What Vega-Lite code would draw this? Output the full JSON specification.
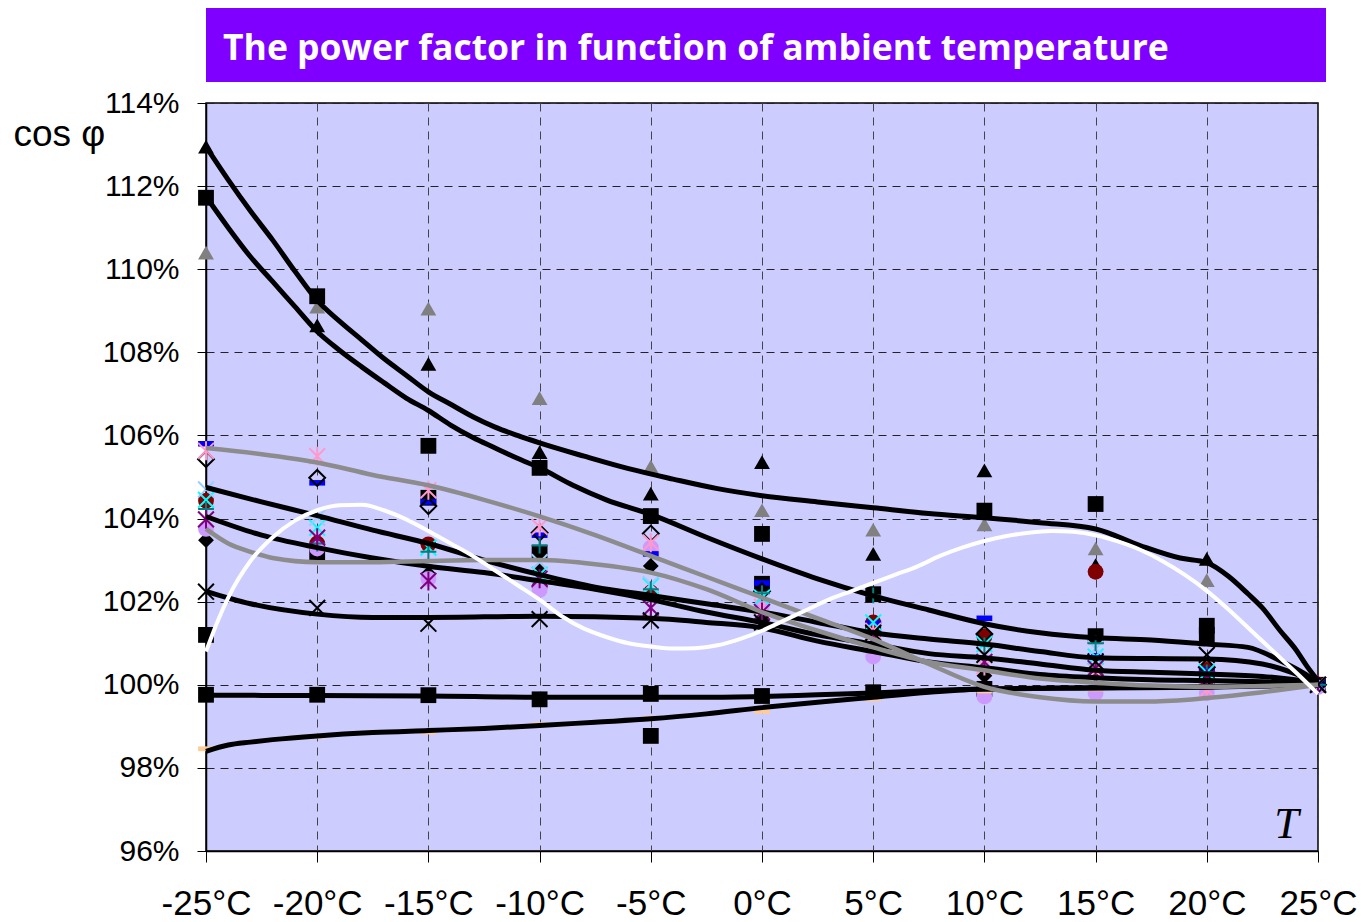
{
  "$schema": "https://vega.github.io/schema/vega-lite/v6.json",
  "background": "white",
  "padding": {"left": 12, "top": 8, "right": 4, "bottom": 2},
  "spacing": 5,
  "config": {
    "view": {"fill": "#ccccff", "stroke": "black", "strokeWidth": 1.5},
    "axis": {"labelColor": "black", "tickColor": "black", "domainColor": "black", "domainWidth": 1.5, "titleColor": "black", "labelFont": "Liberation Sans", "titleFont": "Liberation Sans"}
  },
  "datasets": {
    "pts": [
      {"s": "tri", "T": -25, "v": 112.95}, {"s": "tri", "T": -20, "v": 108.65}, {"s": "tri", "T": -15, "v": 107.72}, {"s": "tri", "T": -10, "v": 105.6}, {"s": "tri", "T": -5, "v": 104.6}, {"s": "tri", "T": 0, "v": 105.36}, {"s": "tri", "T": 5, "v": 103.15}, {"s": "tri", "T": 10, "v": 105.16}, {"s": "tri", "T": 15, "v": 102.88}, {"s": "tri", "T": 20, "v": 103.03}, {"s": "tri", "T": 25, "v": 100.0},
      {"s": "gtri", "T": -25, "v": 110.4}, {"s": "gtri", "T": -20, "v": 109.1}, {"s": "gtri", "T": -15, "v": 109.05}, {"s": "gtri", "T": -10, "v": 106.9}, {"s": "gtri", "T": -5, "v": 105.25}, {"s": "gtri", "T": 0, "v": 104.2}, {"s": "gtri", "T": 5, "v": 103.73}, {"s": "gtri", "T": 10, "v": 103.86}, {"s": "gtri", "T": 15, "v": 103.28}, {"s": "gtri", "T": 20, "v": 102.52}, {"s": "gtri", "T": 25, "v": 100.0},
      {"s": "sq", "T": -25, "v": 111.72}, {"s": "sq", "T": -25, "v": 101.2}, {"s": "sq", "T": -25, "v": 99.76},
      {"s": "sq", "T": -20, "v": 109.35}, {"s": "sq", "T": -20, "v": 103.15}, {"s": "sq", "T": -20, "v": 99.76},
      {"s": "sq", "T": -15, "v": 105.75}, {"s": "sq", "T": -15, "v": 104.5}, {"s": "sq", "T": -15, "v": 99.75},
      {"s": "sq", "T": -10, "v": 105.22}, {"s": "sq", "T": -10, "v": 103.18}, {"s": "sq", "T": -10, "v": 99.65},
      {"s": "sq", "T": -5, "v": 104.06}, {"s": "sq", "T": -5, "v": 99.78}, {"s": "sq", "T": -5, "v": 98.77},
      {"s": "sq", "T": 0, "v": 103.63}, {"s": "sq", "T": 0, "v": 102.43}, {"s": "sq", "T": 0, "v": 99.73},
      {"s": "sq", "T": 5, "v": 102.18}, {"s": "sq", "T": 5, "v": 101.35}, {"s": "sq", "T": 5, "v": 99.82},
      {"s": "sq", "T": 10, "v": 104.19}, {"s": "sq", "T": 10, "v": 99.9},
      {"s": "sq", "T": 15, "v": 104.35}, {"s": "sq", "T": 15, "v": 101.17},
      {"s": "sq", "T": 20, "v": 101.42}, {"s": "sq", "T": 20, "v": 101.2}, {"s": "sq", "T": 20, "v": 100.12},
      {"s": "sq", "T": 25, "v": 100.0},
      {"s": "dia", "T": -25, "v": 103.48}, {"s": "dia", "T": -15, "v": 102.67}, {"s": "dia", "T": -10, "v": 102.78}, {"s": "dia", "T": -5, "v": 102.86}, {"s": "dia", "T": 0, "v": 101.55}, {"s": "dia", "T": 10, "v": 100.22}, {"s": "dia", "T": 15, "v": 100.25}, {"s": "dia", "T": 20, "v": 100.1}, {"s": "dia", "T": 25, "v": 100.0},
      {"s": "odia", "T": -25, "v": 105.43}, {"s": "odia", "T": -20, "v": 104.98}, {"s": "odia", "T": -15, "v": 104.3}, {"s": "odia", "T": -10, "v": 103.66}, {"s": "odia", "T": -5, "v": 103.64}, {"s": "odia", "T": 0, "v": 102.25}, {"s": "odia", "T": 10, "v": 101.22}, {"s": "odia", "T": 20, "v": 100.42}, {"s": "odia", "T": 25, "v": 100.0},
      {"s": "rc", "T": -25, "v": 104.43}, {"s": "rc", "T": -20, "v": 103.4}, {"s": "rc", "T": -15, "v": 103.38}, {"s": "rc", "T": -10, "v": 102.35}, {"s": "rc", "T": -5, "v": 102.22}, {"s": "rc", "T": 5, "v": 101.5}, {"s": "rc", "T": 10, "v": 101.16}, {"s": "rc", "T": 15, "v": 102.72}, {"s": "rc", "T": 20, "v": 100.36}, {"s": "rc", "T": 25, "v": 100.0},
      {"s": "vc", "T": -25, "v": 103.75}, {"s": "vc", "T": -20, "v": 103.28}, {"s": "vc", "T": -15, "v": 102.55}, {"s": "vc", "T": -10, "v": 102.28}, {"s": "vc", "T": -5, "v": 103.3}, {"s": "vc", "T": 0, "v": 101.9}, {"s": "vc", "T": 5, "v": 100.68}, {"s": "vc", "T": 10, "v": 99.72}, {"s": "vc", "T": 15, "v": 99.8}, {"s": "vc", "T": 20, "v": 99.8}, {"s": "vc", "T": 25, "v": 99.95},
      {"s": "bd", "T": -25, "v": 105.8}, {"s": "bd", "T": -20, "v": 104.86}, {"s": "bd", "T": -15, "v": 104.4}, {"s": "bd", "T": -10, "v": 103.6}, {"s": "bd", "T": -5, "v": 103.15}, {"s": "bd", "T": 0, "v": 102.45}, {"s": "bd", "T": 5, "v": 101.48}, {"s": "bd", "T": 10, "v": 101.6}, {"s": "bd", "T": 15, "v": 100.7}, {"s": "bd", "T": 20, "v": 100.36}, {"s": "bd", "T": 25, "v": 100.02},
      {"s": "od", "T": -25, "v": 98.46}, {"s": "od", "T": -20, "v": 98.76}, {"s": "od", "T": -15, "v": 98.86}, {"s": "od", "T": -10, "v": 99.04}, {"s": "od", "T": -5, "v": 99.2}, {"s": "od", "T": 0, "v": 99.36}, {"s": "od", "T": 5, "v": 99.66}, {"s": "od", "T": 10, "v": 99.85}, {"s": "od", "T": 15, "v": 99.9}, {"s": "od", "T": 20, "v": 99.95},
      {"s": "pk", "T": -25, "v": 105.63}, {"s": "pk", "T": -20, "v": 105.5}, {"s": "pk", "T": -15, "v": 104.68}, {"s": "pk", "T": -10, "v": 103.8}, {"s": "pk", "T": -5, "v": 103.42}, {"s": "pk", "T": 0, "v": 101.88}, {"s": "pk", "T": 5, "v": 101.3}, {"s": "pk", "T": 10, "v": 100.45}, {"s": "pk", "T": 15, "v": 100.33}, {"s": "pk", "T": 20, "v": 99.88}, {"s": "pk", "T": 25, "v": 100.0},
      {"s": "cx", "T": -25, "v": 104.45}, {"s": "cx", "T": -20, "v": 103.78}, {"s": "cx", "T": -15, "v": 103.3}, {"s": "cx", "T": -10, "v": 102.65}, {"s": "cx", "T": -5, "v": 102.38}, {"s": "cx", "T": 0, "v": 102.1}, {"s": "cx", "T": 5, "v": 101.5}, {"s": "cx", "T": 10, "v": 100.98}, {"s": "cx", "T": 15, "v": 100.68}, {"s": "cx", "T": 20, "v": 100.3}, {"s": "cx", "T": 25, "v": 100.0},
      {"s": "lbx", "T": -25, "v": 104.7}, {"s": "lbx", "T": -20, "v": 104.02}, {"s": "lbx", "T": -10, "v": 102.95}, {"s": "lbx", "T": -5, "v": 102.42}, {"s": "lbx", "T": 15, "v": 100.87}, {"s": "lbx", "T": 25, "v": 100.0},
      {"s": "tp", "T": -25, "v": 104.23}, {"s": "tp", "T": -20, "v": 103.4}, {"s": "tp", "T": -15, "v": 103.2}, {"s": "tp", "T": -10, "v": 103.35}, {"s": "tp", "T": -5, "v": 102.3}, {"s": "tp", "T": 0, "v": 102.2}, {"s": "tp", "T": 5, "v": 102.15}, {"s": "tp", "T": 10, "v": 100.95}, {"s": "tp", "T": 15, "v": 101.0}, {"s": "tp", "T": 20, "v": 100.3}, {"s": "tp", "T": 25, "v": 100.0},
      {"s": "pa", "T": -25, "v": 103.98}, {"s": "pa", "T": -20, "v": 103.54}, {"s": "pa", "T": -15, "v": 102.5}, {"s": "pa", "T": -10, "v": 102.55}, {"s": "pa", "T": -5, "v": 101.85}, {"s": "pa", "T": 0, "v": 101.75}, {"s": "pa", "T": 5, "v": 101.1}, {"s": "pa", "T": 10, "v": 100.55}, {"s": "pa", "T": 15, "v": 100.4}, {"s": "pa", "T": 20, "v": 100.15}, {"s": "pa", "T": 25, "v": 100.0},
      {"s": "bx", "T": -25, "v": 102.24}, {"s": "bx", "T": -20, "v": 101.85}, {"s": "bx", "T": -15, "v": 101.47}, {"s": "bx", "T": -10, "v": 101.58}, {"s": "bx", "T": -5, "v": 101.55}, {"s": "bx", "T": 0, "v": 101.5}, {"s": "bx", "T": 5, "v": 101.25}, {"s": "bx", "T": 10, "v": 100.72}, {"s": "bx", "T": 15, "v": 100.55}, {"s": "bx", "T": 20, "v": 100.72}, {"s": "bx", "T": 25, "v": 100.0}
    ],
    "crv": [
      {"c": "T1", "T": -25, "v": 112.95}, {"c": "T1", "T": -24, "v": 112.15}, {"c": "T1", "T": -23, "v": 111.4}, {"c": "T1", "T": -22, "v": 110.7}, {"c": "T1", "T": -21, "v": 109.95}, {"c": "T1", "T": -20, "v": 109.25}, {"c": "T1", "T": -19, "v": 108.75}, {"c": "T1", "T": -18, "v": 108.3}, {"c": "T1", "T": -17, "v": 107.85}, {"c": "T1", "T": -16, "v": 107.45}, {"c": "T1", "T": -15, "v": 107.05}, {"c": "T1", "T": -14, "v": 106.75}, {"c": "T1", "T": -13, "v": 106.45}, {"c": "T1", "T": -12, "v": 106.2}, {"c": "T1", "T": -11, "v": 106.0}, {"c": "T1", "T": -10, "v": 105.82}, {"c": "T1", "T": -8, "v": 105.5}, {"c": "T1", "T": -6, "v": 105.2}, {"c": "T1", "T": -4, "v": 104.95}, {"c": "T1", "T": -2, "v": 104.72}, {"c": "T1", "T": 0, "v": 104.55}, {"c": "T1", "T": 2.5, "v": 104.4}, {"c": "T1", "T": 5, "v": 104.26}, {"c": "T1", "T": 7.5, "v": 104.12}, {"c": "T1", "T": 10, "v": 104.02}, {"c": "T1", "T": 12.5, "v": 103.9}, {"c": "T1", "T": 15, "v": 103.75}, {"c": "T1", "T": 17, "v": 103.35}, {"c": "T1", "T": 18.8, "v": 103.05}, {"c": "T1", "T": 20, "v": 102.94}, {"c": "T1", "T": 21, "v": 102.6}, {"c": "T1", "T": 21.85, "v": 102.19}, {"c": "T1", "T": 22.5, "v": 101.85}, {"c": "T1", "T": 23.3, "v": 101.3}, {"c": "T1", "T": 24, "v": 100.85}, {"c": "T1", "T": 24.5, "v": 100.45}, {"c": "T1", "T": 25, "v": 100.1},
      {"c": "T2", "T": -25, "v": 111.75}, {"c": "T2", "T": -24, "v": 111.0}, {"c": "T2", "T": -23, "v": 110.3}, {"c": "T2", "T": -22, "v": 109.7}, {"c": "T2", "T": -21, "v": 109.1}, {"c": "T2", "T": -20, "v": 108.5}, {"c": "T2", "T": -19, "v": 108.05}, {"c": "T2", "T": -18, "v": 107.65}, {"c": "T2", "T": -17, "v": 107.27}, {"c": "T2", "T": -16, "v": 106.9}, {"c": "T2", "T": -15, "v": 106.6}, {"c": "T2", "T": -14, "v": 106.25}, {"c": "T2", "T": -13, "v": 105.95}, {"c": "T2", "T": -12, "v": 105.7}, {"c": "T2", "T": -11, "v": 105.45}, {"c": "T2", "T": -10, "v": 105.22}, {"c": "T2", "T": -8.5, "v": 104.8}, {"c": "T2", "T": -7, "v": 104.45}, {"c": "T2", "T": -5, "v": 104.1}, {"c": "T2", "T": -2.5, "v": 103.55}, {"c": "T2", "T": 0, "v": 103.03}, {"c": "T2", "T": 2.5, "v": 102.55}, {"c": "T2", "T": 5, "v": 102.14}, {"c": "T2", "T": 7.5, "v": 101.8}, {"c": "T2", "T": 10, "v": 101.47}, {"c": "T2", "T": 12.5, "v": 101.25}, {"c": "T2", "T": 15, "v": 101.13}, {"c": "T2", "T": 17.5, "v": 101.08}, {"c": "T2", "T": 20, "v": 100.98}, {"c": "T2", "T": 21.85, "v": 100.9}, {"c": "T2", "T": 23.3, "v": 100.58}, {"c": "T2", "T": 24.3, "v": 100.3}, {"c": "T2", "T": 25, "v": 100.05},
      {"c": "B3", "T": -25, "v": 104.75}, {"c": "B3", "T": -22.5, "v": 104.4}, {"c": "B3", "T": -20, "v": 104.07}, {"c": "B3", "T": -17.5, "v": 103.72}, {"c": "B3", "T": -15, "v": 103.4}, {"c": "B3", "T": -12.5, "v": 103.0}, {"c": "B3", "T": -10, "v": 102.65}, {"c": "B3", "T": -7.5, "v": 102.35}, {"c": "B3", "T": -5, "v": 102.15}, {"c": "B3", "T": -2.5, "v": 101.95}, {"c": "B3", "T": 0, "v": 101.75}, {"c": "B3", "T": 2.5, "v": 101.5}, {"c": "B3", "T": 5, "v": 101.25}, {"c": "B3", "T": 7.5, "v": 101.1}, {"c": "B3", "T": 10, "v": 100.98}, {"c": "B3", "T": 12.5, "v": 100.8}, {"c": "B3", "T": 15, "v": 100.65}, {"c": "B3", "T": 17.5, "v": 100.63}, {"c": "B3", "T": 20, "v": 100.62}, {"c": "B3", "T": 22.5, "v": 100.5}, {"c": "B3", "T": 25, "v": 100.05},
      {"c": "B4", "T": -25, "v": 104.05}, {"c": "B4", "T": -22.5, "v": 103.6}, {"c": "B4", "T": -20, "v": 103.3}, {"c": "B4", "T": -17.5, "v": 103.05}, {"c": "B4", "T": -15, "v": 102.85}, {"c": "B4", "T": -12.5, "v": 102.7}, {"c": "B4", "T": -10, "v": 102.5}, {"c": "B4", "T": -7.5, "v": 102.3}, {"c": "B4", "T": -5, "v": 102.05}, {"c": "B4", "T": -2.5, "v": 101.75}, {"c": "B4", "T": 0, "v": 101.5}, {"c": "B4", "T": 2.5, "v": 101.2}, {"c": "B4", "T": 5, "v": 100.98}, {"c": "B4", "T": 7.5, "v": 100.75}, {"c": "B4", "T": 10, "v": 100.65}, {"c": "B4", "T": 12.5, "v": 100.5}, {"c": "B4", "T": 15, "v": 100.35}, {"c": "B4", "T": 17.5, "v": 100.3}, {"c": "B4", "T": 20, "v": 100.26}, {"c": "B4", "T": 22.5, "v": 100.2}, {"c": "B4", "T": 25, "v": 100.05},
      {"c": "B5", "T": -25, "v": 102.25}, {"c": "B5", "T": -23, "v": 101.95}, {"c": "B5", "T": -20, "v": 101.7}, {"c": "B5", "T": -17.5, "v": 101.62}, {"c": "B5", "T": -15, "v": 101.62}, {"c": "B5", "T": -10, "v": 101.65}, {"c": "B5", "T": -5, "v": 101.6}, {"c": "B5", "T": -2.5, "v": 101.5}, {"c": "B5", "T": 0, "v": 101.37}, {"c": "B5", "T": 2.5, "v": 101.05}, {"c": "B5", "T": 5, "v": 100.8}, {"c": "B5", "T": 7.5, "v": 100.55}, {"c": "B5", "T": 10, "v": 100.41}, {"c": "B5", "T": 12.5, "v": 100.25}, {"c": "B5", "T": 15, "v": 100.17}, {"c": "B5", "T": 17.5, "v": 100.12}, {"c": "B5", "T": 20, "v": 100.1}, {"c": "B5", "T": 22.5, "v": 100.07}, {"c": "B5", "T": 25, "v": 100.02},
      {"c": "B6", "T": -25, "v": 99.75}, {"c": "B6", "T": -20, "v": 99.74}, {"c": "B6", "T": -15, "v": 99.73}, {"c": "B6", "T": -10, "v": 99.7}, {"c": "B6", "T": -5, "v": 99.7}, {"c": "B6", "T": -2.5, "v": 99.7}, {"c": "B6", "T": 0, "v": 99.72}, {"c": "B6", "T": 2.5, "v": 99.76}, {"c": "B6", "T": 5, "v": 99.8}, {"c": "B6", "T": 7.5, "v": 99.86}, {"c": "B6", "T": 10, "v": 99.9}, {"c": "B6", "T": 15, "v": 99.92}, {"c": "B6", "T": 20, "v": 99.94}, {"c": "B6", "T": 25, "v": 100.0},
      {"c": "B7", "T": -25, "v": 98.4}, {"c": "B7", "T": -24, "v": 98.55}, {"c": "B7", "T": -23, "v": 98.62}, {"c": "B7", "T": -22, "v": 98.68}, {"c": "B7", "T": -20, "v": 98.77}, {"c": "B7", "T": -17.5, "v": 98.85}, {"c": "B7", "T": -15, "v": 98.9}, {"c": "B7", "T": -12.5, "v": 98.95}, {"c": "B7", "T": -10, "v": 99.02}, {"c": "B7", "T": -7.5, "v": 99.1}, {"c": "B7", "T": -5, "v": 99.18}, {"c": "B7", "T": -2.5, "v": 99.3}, {"c": "B7", "T": 0, "v": 99.45}, {"c": "B7", "T": 2.5, "v": 99.58}, {"c": "B7", "T": 5, "v": 99.7}, {"c": "B7", "T": 7.5, "v": 99.82}, {"c": "B7", "T": 10, "v": 99.9}, {"c": "B7", "T": 15, "v": 99.93}, {"c": "B7", "T": 20, "v": 99.95}, {"c": "B7", "T": 25, "v": 100.0},
      {"c": "G1", "T": -25, "v": 105.7}, {"c": "G1", "T": -22.5, "v": 105.55}, {"c": "G1", "T": -20, "v": 105.35}, {"c": "G1", "T": -17.5, "v": 105.05}, {"c": "G1", "T": -15, "v": 104.8}, {"c": "G1", "T": -12.5, "v": 104.45}, {"c": "G1", "T": -10, "v": 104.05}, {"c": "G1", "T": -7.5, "v": 103.6}, {"c": "G1", "T": -5, "v": 103.1}, {"c": "G1", "T": -2.5, "v": 102.6}, {"c": "G1", "T": 0, "v": 102.1}, {"c": "G1", "T": 2.5, "v": 101.6}, {"c": "G1", "T": 5, "v": 101.1}, {"c": "G1", "T": 7.5, "v": 100.5}, {"c": "G1", "T": 10, "v": 99.95}, {"c": "G1", "T": 12.5, "v": 99.7}, {"c": "G1", "T": 15, "v": 99.6}, {"c": "G1", "T": 17.5, "v": 99.6}, {"c": "G1", "T": 20, "v": 99.68}, {"c": "G1", "T": 22.5, "v": 99.82}, {"c": "G1", "T": 25, "v": 100.0},
      {"c": "G2", "T": -25, "v": 103.75}, {"c": "G2", "T": -24, "v": 103.4}, {"c": "G2", "T": -23, "v": 103.2}, {"c": "G2", "T": -22, "v": 103.05}, {"c": "G2", "T": -20, "v": 102.95}, {"c": "G2", "T": -17.5, "v": 102.95}, {"c": "G2", "T": -15, "v": 102.98}, {"c": "G2", "T": -12.5, "v": 103.0}, {"c": "G2", "T": -10, "v": 103.0}, {"c": "G2", "T": -7.5, "v": 102.9}, {"c": "G2", "T": -5, "v": 102.7}, {"c": "G2", "T": -2.5, "v": 102.3}, {"c": "G2", "T": 0, "v": 101.75}, {"c": "G2", "T": 2.5, "v": 101.3}, {"c": "G2", "T": 5, "v": 100.9}, {"c": "G2", "T": 7.5, "v": 100.55}, {"c": "G2", "T": 10, "v": 100.35}, {"c": "G2", "T": 12.5, "v": 100.15}, {"c": "G2", "T": 15, "v": 100.05}, {"c": "G2", "T": 17.5, "v": 99.98}, {"c": "G2", "T": 20, "v": 99.95}, {"c": "G2", "T": 22.5, "v": 99.97}, {"c": "G2", "T": 25, "v": 100.0},
      {"c": "W", "T": -25, "v": 100.8}, {"c": "W", "T": -24.5, "v": 101.5}, {"c": "W", "T": -24, "v": 102.1}, {"c": "W", "T": -23, "v": 102.98}, {"c": "W", "T": -22, "v": 103.55}, {"c": "W", "T": -21, "v": 103.95}, {"c": "W", "T": -20, "v": 104.2}, {"c": "W", "T": -19, "v": 104.32}, {"c": "W", "T": -18, "v": 104.33}, {"c": "W", "T": -17, "v": 104.2}, {"c": "W", "T": -16, "v": 103.98}, {"c": "W", "T": -15, "v": 103.7}, {"c": "W", "T": -14, "v": 103.4}, {"c": "W", "T": -13, "v": 103.1}, {"c": "W", "T": -12, "v": 102.75}, {"c": "W", "T": -11, "v": 102.4}, {"c": "W", "T": -10, "v": 102.05}, {"c": "W", "T": -9, "v": 101.65}, {"c": "W", "T": -8, "v": 101.35}, {"c": "W", "T": -7, "v": 101.15}, {"c": "W", "T": -6, "v": 101.0}, {"c": "W", "T": -5, "v": 100.92}, {"c": "W", "T": -4, "v": 100.87}, {"c": "W", "T": -3, "v": 100.88}, {"c": "W", "T": -2, "v": 100.95}, {"c": "W", "T": -1, "v": 101.1}, {"c": "W", "T": 0, "v": 101.3}, {"c": "W", "T": 1, "v": 101.55}, {"c": "W", "T": 2, "v": 101.8}, {"c": "W", "T": 3, "v": 102.05}, {"c": "W", "T": 4, "v": 102.25}, {"c": "W", "T": 5, "v": 102.45}, {"c": "W", "T": 6, "v": 102.65}, {"c": "W", "T": 7, "v": 102.85}, {"c": "W", "T": 8, "v": 103.1}, {"c": "W", "T": 9, "v": 103.3}, {"c": "W", "T": 10, "v": 103.46}, {"c": "W", "T": 11, "v": 103.58}, {"c": "W", "T": 12, "v": 103.66}, {"c": "W", "T": 13, "v": 103.7}, {"c": "W", "T": 14, "v": 103.68}, {"c": "W", "T": 15, "v": 103.6}, {"c": "W", "T": 16, "v": 103.45}, {"c": "W", "T": 17, "v": 103.25}, {"c": "W", "T": 18, "v": 102.98}, {"c": "W", "T": 19, "v": 102.65}, {"c": "W", "T": 20, "v": 102.26}, {"c": "W", "T": 21, "v": 101.8}, {"c": "W", "T": 22, "v": 101.3}, {"c": "W", "T": 23, "v": 100.8}, {"c": "W", "T": 24, "v": 100.3}, {"c": "W", "T": 25, "v": 99.78}
    ]
  },
  "vconcat": [
    {
      "width": 1120,
      "height": 74,
      "view": {"fill": "#8000ff", "stroke": null},
      "data": {"values": [{"t": "The power factor in function of ambient temperature"}]},
      "mark": {"type": "text", "align": "left", "baseline": "middle", "dx": 17, "dy": 4, "color": "white", "font": "Open Sans", "fontSize": 35.5, "fontWeight": "bold"},
      "encoding": {
        "text": {"field": "t", "type": "nominal"},
        "x": {"value": 0}
      }
    },
    {
      "width": 1112,
      "height": 748,
      "encoding": {
        "x": {
          "field": "T", "type": "quantitative",
          "scale": {"domain": [-25, 25], "nice": false, "zero": false},
          "axis": {
            "values": [-25, -20, -15, -10, -5, 0, 5, 10, 15, 20, 25],
            "labelExpr": "datum.value + '°C'",
            "labelFontSize": 35, "labelPadding": 24, "tickSize": 11,
            "labelFlush": false, "labelOverlap": false, "labelBound": false,
            "grid": true, "gridColor": "#444", "gridDash": [8, 6], "gridWidth": 1,
            "title": "T", "titleFont": "Liberation Serif", "titleFontStyle": "italic", "titleFontWeight": "normal", "titleFontSize": 44,
            "titleX": 1080, "titleY": -14, "titleAlign": "center", "titleBaseline": "alphabetic", "titleAngle": 0
          }
        },
        "y": {
          "field": "v", "type": "quantitative",
          "scale": {"domain": [96, 114], "nice": false, "zero": false},
          "axis": {
            "values": [96, 98, 100, 102, 104, 106, 108, 110, 112, 114],
            "labelExpr": "datum.value + '%'",
            "labelFontSize": 30, "labelPadding": 18, "tickSize": 9,
            "grid": true, "gridColor": "#222", "gridDash": [8, 6], "gridWidth": 1,
            "title": "cos φ", "titleFontSize": 37, "titleFontWeight": "normal",
            "titleAngle": 0, "titleAlign": "left", "titleBaseline": "alphabetic",
            "titleX": -193, "titleY": 42
          }
        }
      },
      "layer": [
        {
          "data": {"name": "pts"},
          "transform": [{"filter": {"field": "s", "oneOf": ["tri", "gtri", "sq", "dia", "rc", "vc", "bd", "od"]}}],
          "mark": {"type": "point", "filled": true, "opacity": 1},
          "encoding": {
            "shape": {"field": "s", "type": "nominal", "legend": null, "scale": {
              "domain": ["tri", "gtri", "sq", "dia", "rc", "vc", "bd", "od", "odia", "pk", "cx", "lbx", "tp", "pa", "bx"],
              "range": ["triangle-up", "triangle-up", "square", "diamond", "circle", "circle", "M-1,-0.35L1,-0.35L1,0.35L-1,0.35Z", "M-1,-0.3L1,-0.3L1,0.3L-1,0.3Z", "diamond", "M-1,-1L1,1M-1,1L1,-1M0,-1.2L0,1.2", "M-1,-1L1,1M-1,1L1,-1", "M-1,-1L1,1M-1,1L1,-1", "M-1,0L1,0M0,-1L0,1", "M-1,-1L1,1M-1,1L1,-1M0,-1.2L0,1.2", "M-1,-1L1,1M-1,1L1,-1"]}},
            "size": {"field": "s", "type": "nominal", "legend": null, "scale": {
              "domain": ["tri", "gtri", "sq", "dia", "rc", "vc", "bd", "od", "odia", "pk", "cx", "lbx", "tp", "pa", "bx"],
              "range": [250, 250, 160, 190, 170, 170, 130, 130, 190, 150, 140, 140, 150, 150, 140]}},
            "color": {"field": "s", "type": "nominal", "legend": null, "scale": {
              "domain": ["tri", "gtri", "sq", "dia", "rc", "vc", "bd", "od", "odia", "pk", "cx", "lbx", "tp", "pa", "bx"],
              "range": ["#000000", "#808080", "#000000", "#000000", "#800000", "#cc99ff", "#0000ff", "#ffcc99", "#000000", "#ff99cc", "#00ffff", "#99ccff", "#008080", "#800080", "#000000"]}}
          }
        },
        {
          "data": {"name": "pts"},
          "transform": [{"filter": {"field": "s", "oneOf": ["odia", "pk", "cx", "lbx", "tp", "pa", "bx"]}}],
          "mark": {"type": "point", "filled": false, "opacity": 1, "strokeWidth": 2},
          "encoding": {
            "shape": {"field": "s", "type": "nominal", "legend": null, "scale": {
              "domain": ["tri", "gtri", "sq", "dia", "rc", "vc", "bd", "od", "odia", "pk", "cx", "lbx", "tp", "pa", "bx"],
              "range": ["triangle-up", "triangle-up", "square", "diamond", "circle", "circle", "M-1,-0.35L1,-0.35L1,0.35L-1,0.35Z", "M-1,-0.3L1,-0.3L1,0.3L-1,0.3Z", "diamond", "M-1,-1L1,1M-1,1L1,-1M0,-1.2L0,1.2", "M-1,-1L1,1M-1,1L1,-1", "M-1,-1L1,1M-1,1L1,-1", "M-1,0L1,0M0,-1L0,1", "M-1,-1L1,1M-1,1L1,-1M0,-1.2L0,1.2", "M-1,-1L1,1M-1,1L1,-1"]}},
            "size": {"field": "s", "type": "nominal", "legend": null, "scale": {
              "domain": ["tri", "gtri", "sq", "dia", "rc", "vc", "bd", "od", "odia", "pk", "cx", "lbx", "tp", "pa", "bx"],
              "range": [250, 250, 160, 190, 170, 170, 130, 130, 190, 150, 140, 140, 150, 150, 140]}},
            "color": {"field": "s", "type": "nominal", "legend": null, "scale": {
              "domain": ["tri", "gtri", "sq", "dia", "rc", "vc", "bd", "od", "odia", "pk", "cx", "lbx", "tp", "pa", "bx"],
              "range": ["#000000", "#808080", "#000000", "#000000", "#800000", "#cc99ff", "#0000ff", "#ffcc99", "#000000", "#ff99cc", "#00ffff", "#99ccff", "#008080", "#800080", "#000000"]}}
          }
        },
        {
          "data": {"name": "crv"},
          "transform": [{"filter": {"field": "c", "oneOf": ["T1", "T2", "B3", "B4", "B5", "B6", "B7"]}}],
          "mark": {"type": "line", "color": "#000000", "strokeWidth": 5, "interpolate": "monotone"},
          "encoding": {"detail": {"field": "c", "type": "nominal"}}
        },
        {
          "data": {"name": "crv"},
          "transform": [{"filter": {"field": "c", "oneOf": ["G1", "G2"]}}],
          "mark": {"type": "line", "color": "#8c8c8c", "strokeWidth": 4.5, "interpolate": "monotone"},
          "encoding": {"detail": {"field": "c", "type": "nominal"}}
        },
        {
          "data": {"name": "crv"},
          "transform": [{"filter": {"field": "c", "equal": "W"}}],
          "mark": {"type": "line", "color": "#ffffff", "strokeWidth": 4, "interpolate": "monotone"},
          "encoding": {"detail": {"field": "c", "type": "nominal"}}
        }
      ]
    }
  ]
}
